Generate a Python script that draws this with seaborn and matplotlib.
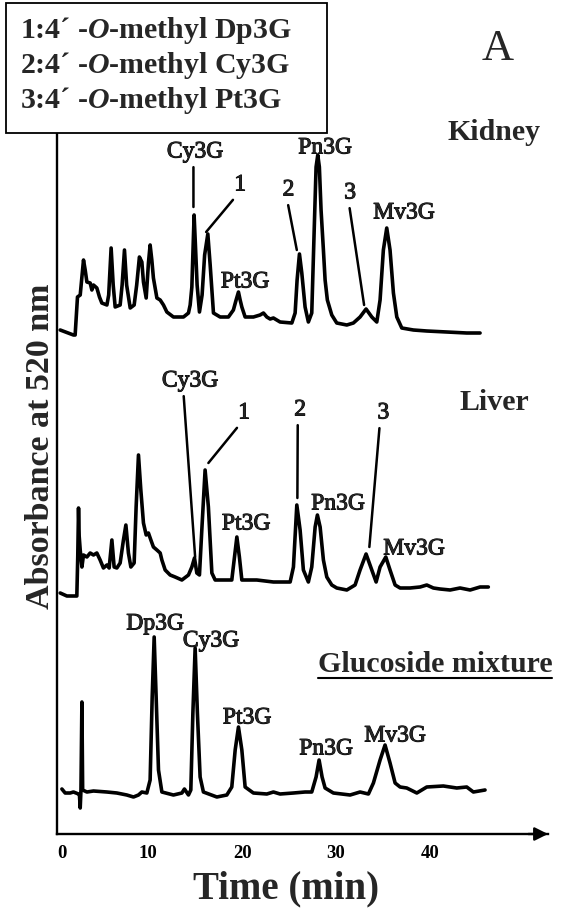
import numpy as np
import pandas as pd
import matplotlib
matplotlib.use("Agg")
import matplotlib.pyplot as plt
from matplotlib.patches import Rectangle
from matplotlib.lines import Line2D
import matplotlib.patheffects as pe
import seaborn as sns

# ---------------- data (time in min, absorbance in arbitrary units) ----------------
kidney_time = [0.64, 2.05, 2.23, 2.48, 2.77, 3.12, 3.30, 3.48, 3.83, 4.01, 4.18, 4.54, 4.82, 5.07, 5.61, 5.80,
               6.06, 6.28, 6.49, 7.02, 7.23, 7.48, 7.71, 8.09, 8.51, 8.78, 9.07, 9.33, 9.50, 9.79, 10.03, 10.21,
               10.39, 10.56, 10.93, 11.28, 11.63, 11.99, 12.69, 13.76, 14.29, 14.47, 14.65, 14.79, 14.89, 15.03,
               15.21, 15.46, 15.74, 16.01, 16.35, 16.60, 16.95, 17.66, 18.54, 19.07, 19.36, 19.61, 19.79, 19.97,
               20.32, 21.20, 21.91, 22.27, 22.63, 22.98, 23.33, 24.04, 25.29, 25.64, 25.85, 26.10, 26.35, 26.70,
               27.05, 27.41, 27.66, 27.87, 28.05, 28.22, 28.40, 28.65, 28.83, 29.07, 29.54, 30.07, 31.14, 31.84,
               32.55, 33.19, 33.80, 34.33, 34.68, 35.03, 35.39, 35.74, 36.10, 36.46, 36.99, 38.22, 39.65, 41.78,
               43.90, 45.32]
kidney_abs = [5, 0, 0, 38, 40, 75, 65, 53, 52, 45, 50, 47, 38, 32, 30, 40,
              87, 50, 28, 30, 50, 85, 50, 27, 30, 50, 78, 73, 53, 37, 72, 90,
              75, 57, 37, 35, 30, 23, 18, 18, 22, 30, 48, 90, 120, 90,
              50, 23, 40, 80, 101, 70, 22, 18, 18, 25, 35, 43, 35, 28,
              18, 18, 20, 22, 18, 16, 17, 13, 12, 22, 55, 81, 62, 28,
              13, 22, 102, 168, 180, 168, 125, 85, 55, 35, 20, 12, 10, 12,
              18, 26, 18, 13, 35, 85, 107, 85, 42, 18, 7, 5, 4, 3,
              2, 2]

liver_time = [0.64, 1.35, 2.41, 2.51, 2.59, 2.66, 2.77, 2.95, 3.12, 3.48, 3.83, 4.18, 4.54, 4.89, 5.24, 5.61,
              5.85, 6.14, 6.38, 6.67, 7.02, 7.37, 7.63, 7.90, 8.16, 8.51, 8.72, 8.97, 9.22, 9.50, 9.79, 10.03,
              10.29, 10.56, 10.93, 11.28, 11.46, 11.81, 12.34, 12.87, 13.59, 14.29, 14.65, 14.93, 15.18, 15.46,
              15.71, 16.06, 16.41, 16.78, 17.13, 18.01, 18.90, 19.15, 19.44, 19.71, 19.97, 21.56, 23.33, 25.11,
              25.46, 25.82, 26.17, 26.52, 27.05, 27.41, 27.77, 28.01, 28.30, 28.65, 29.01, 29.54, 30.07, 31.14,
              32.02, 32.55, 33.19, 33.80, 34.26, 34.68, 35.29, 35.74, 36.28, 36.81, 37.87, 38.94, 39.65, 40.35,
              41.06, 42.13, 43.19, 44.26, 45.32, 46.20]
liver_abs = [3, 0, 0, 40, 88, 60, 46, 29, 41, 39, 43, 41, 43, 36, 28, 31,
             28, 56, 29, 28, 33, 56, 71, 43, 29, 33, 89, 141, 106, 73, 61, 63,
             56, 49, 46, 43, 36, 26, 21, 19, 16, 21, 29, 38, 23, 21,
             66, 126, 89, 23, 16, 16, 16, 36, 59, 39, 16, 16, 14, 14,
             29, 91, 66, 26, 14, 29, 69, 81, 69, 36, 19, 11, 8, 6,
             11, 26, 42, 26, 14, 29, 39, 26, 11, 8, 8, 9, 11, 8,
             7, 6, 8, 6, 9, 9]

gluc_time = [0.82, 1.17, 1.70, 2.05, 2.59, 2.69, 2.77, 2.85, 2.95, 3.03, 3.48, 4.18, 5.61, 6.67, 7.73, 8.44,
             8.97, 9.33, 9.86, 10.21, 10.43, 10.64, 10.85, 11.10, 11.46, 12.69, 13.59, 13.86, 14.29, 14.54,
             14.76, 15.00, 15.24, 15.53, 15.88, 17.31, 18.37, 18.90, 19.26, 19.61, 19.97, 20.32, 21.20, 22.63,
             23.33, 24.04, 25.46, 26.70, 27.41, 27.87, 28.19, 28.51, 28.83, 29.71, 31.49, 32.55, 33.44, 33.97,
             34.68, 35.21, 35.74, 36.28, 36.81, 37.52, 38.59, 39.65, 41.41, 42.84, 43.90, 44.61, 45.85]
gluc_abs = [4, 0, 0, 1, -1, -2, -15, 3, 91, 3, 1, 2, 1, 0, -2, -4,
            -2, 1, 0, 13, 96, 156, 96, 23, 1, -2, 0, 4, -2, 3,
            80, 145, 80, 16, 1, -4, -2, 6, 43, 66, 43, 6, 0, -1,
            1, -1, 0, 1, 1, 16, 33, 16, 5, 0, -2, 1, -1, 10,
            33, 48, 30, 10, 6, 5, 0, 6, 7, 5, 6, 1, 3]

samples = ["Kidney", "Liver", "Glucoside mixture"]
x_tick_values = [10, 20, 30, 40]
x_tick_labels = ["0", "10", "20", "30", "40"]
legend_lines = ["1:4\u00b4 -$O$-methyl Dp3G", "2:4\u00b4 -$O$-methyl Cy3G", "3:4\u00b4 -$O$-methyl Pt3G"]

# peak annotations: (label, text position, leader-line tip or None, leader start in text box)
kidney_peaks = [("Cy3G", (15.0, 682), (14.82, 627), (0.47, 0.0)),
                ("1", (19.79, 649), (16.17, 602), (0.2, 0.0)),
                ("Pt3G", (20.32, 552), None, None),
                ("2", (24.93, 644), (25.82, 584), (0.4, 0.0)),
                ("Pn3G", (28.83, 686), None, None),
                ("3", (31.49, 641), (32.98, 529), (0.4, 0.0)),
                ("Mv3G", (37.23, 621), None, None)]
liver_peaks = [("Cy3G", (14.47, 453), (15.0, 277), (0.38, 0.0)),
               ("1", (20.21, 421), (16.41, 371), (0.2, 0.0)),
               ("Pt3G", (20.43, 310), None, None),
               ("2", (26.17, 424), (25.88, 336), (0.3, 0.0)),
               ("Pn3G", (30.21, 330), None, None),
               ("3", (35.03, 421), (33.54, 287), (0.2, 0.0)),
               ("Mv3G", (38.3, 285), None, None)]
gluc_peaks = [("Dp3G", (10.74, 210), None, None),
              ("Cy3G", (16.70, 193), None, None),
              ("Pt3G", (20.53, 116), None, None),
              ("Pn3G", (28.94, 85), None, None),
              ("Mv3G", (36.28, 98), None, None)]
sample_label_pos = [(46.81, 702), (46.81, 432), (40.53, 169)]
trace_offsets = [499, 238, 41]

# ---------------- figure ----------------
sns.set_style("white")
plt.rcParams["font.family"] = ["Liberation Serif", "DejaVu Serif"]
plt.rcParams["mathtext.fontset"] = "custom"
plt.rcParams["mathtext.it"] = "Liberation Serif:italic:bold"
plt.rcParams["mathtext.rm"] = "Liberation Serif:bold"

W, H = 567, 908
fig = plt.figure(figsize=(W / 100, H / 100), dpi=100)
fig.patch.set_facecolor("white")
ax = fig.add_axes([57 / W, (H - 834) / H, 491 / W, 700 / H])
ax.set_facecolor("white")

frames = []
for name, t, a, off in zip(samples, [kidney_time, liver_time, gluc_time],
                           [kidney_abs, liver_abs, gluc_abs], trace_offsets):
    d = pd.DataFrame({"time": t, "absorbance": a})
    d["sample"] = name
    d["signal"] = d["absorbance"] + off
    frames.append(d)
df = pd.concat(frames, ignore_index=True)

sns.lineplot(data=df, x="time", y="signal", units="sample", estimator=None, sort=False,
             color="black", linewidth=2.6, ax=ax, legend=False)

ax.set_xlim(0.3, 52.55)
ax.set_ylim(0, 700)

for s in ["top", "right"]:
    ax.spines[s].set_visible(False)
for s in ["left", "bottom"]:
    ax.spines[s].set_linewidth(1.7)
    ax.spines[s].set_color("black")

ax.set_xticks([0.8] + x_tick_values)
ax.set_xticklabels(x_tick_labels, fontsize=13.5, fontweight="bold")
ax.set_yticks([])
ax.tick_params(axis="x", direction="in", length=13.5, width=2.0, pad=8, colors="black")
ax.xaxis.get_major_ticks()[0].tick1line.set_visible(False)

# arrow at the end of the time axis
ax.annotate("", xy=(1.0, 0), xycoords="axes fraction", xytext=(0.96, 0),
            arrowprops=dict(arrowstyle="-|>", color="black", lw=1.7, mutation_scale=20,
                            shrinkA=0, shrinkB=0), annotation_clip=False)

ax.set_xlabel("Time (min)", fontsize=28, fontweight="bold")
ax.xaxis.set_label_coords(0.467, -0.079)
ax.xaxis.label.set_va("center")
ax.set_ylabel("Absorbance at 520 nm", fontsize=24.5, fontweight="bold")
ax.yaxis.set_label_coords(-0.033, 0.554)
ax.yaxis.label.set_va("center")

thick = [pe.withStroke(linewidth=0.7, foreground="black")]

# peak labels
for peaks in [kidney_peaks, liver_peaks, gluc_peaks]:
    for lab, pos, tip, rel in peaks:
        if tip is None:
            ax.text(pos[0], pos[1], lab, ha="center", va="center", fontsize=17, path_effects=thick)
        else:
            ax.annotate(lab, xy=tip, xytext=pos, ha="center", va="center", fontsize=17,
                        path_effects=thick,
                        arrowprops=dict(arrowstyle="-", color="black", lw=1.8,
                                        shrinkA=1, shrinkB=0, relpos=rel))

sample_texts = []
for name, pos in zip(samples, sample_label_pos):
    sample_texts.append(ax.text(pos[0], pos[1], name, ha="center", va="center",
                                fontsize=21.5, fontweight="bold"))

# legend box
fig.patches.append(Rectangle((6 / W, 1 - 133 / H), 321 / W, 130 / H, transform=fig.transFigure,
                             facecolor="white", edgecolor="black", lw=1.3, zorder=5))
for i, line in enumerate(legend_lines):
    fig.text(20 / W, 1 - (38 + 35 * i) / H, line, ha="left", va="baseline",
             fontsize=21.5, fontweight="bold", zorder=6)

fig.text(498 / W, 1 - 49 / H, "A", ha="center", va="center", fontsize=32, zorder=6)

# underline the glucoside label
fig.canvas.draw()
bb = sample_texts[2].get_window_extent(renderer=fig.canvas.get_renderer())
yline = bb.y0 + 1
fig.lines.append(Line2D([bb.x0 / W, bb.x1 / W], [yline / H, yline / H], transform=fig.transFigure,
                        color="black", lw=1.5))

fig.savefig("out.png", dpi=100, facecolor="white")
